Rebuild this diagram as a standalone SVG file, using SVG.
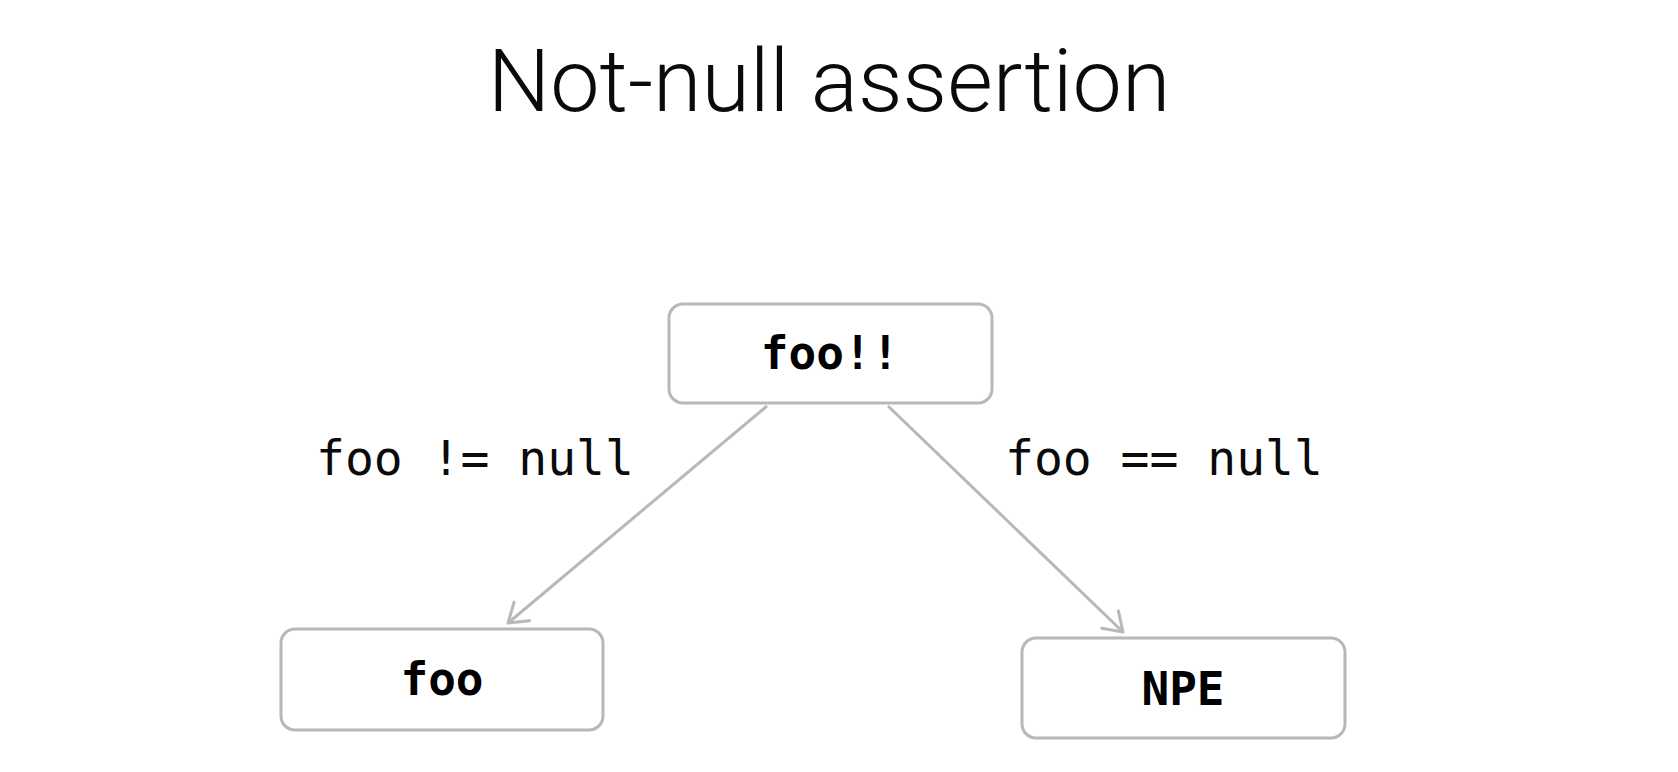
<svg xmlns="http://www.w3.org/2000/svg" width="1678" height="772" viewBox="0 0 1678 772">
  <style>
    .box { fill: #ffffff; stroke: #b8b8b8; stroke-width: 3; }
    .node-text { font-family: "DejaVu Sans Mono", "Liberation Mono", monospace; font-weight: bold; font-size: 46px; fill: #000000; text-anchor: middle; }
    .edge { stroke: #b8b8b8; stroke-width: 3; fill: none; }
    .edge-label { font-family: "DejaVu Sans Mono", "Liberation Mono", monospace; font-size: 48px; fill: #0a0a0a; }
    .title { font-family: Roboto, "Liberation Sans", sans-serif; font-weight: 300; font-size: 88px; fill: #0a0a0a; text-anchor: middle; }
  </style>
  <defs>
    <marker id="arrow" markerUnits="userSpaceOnUse" markerWidth="40" markerHeight="40" viewBox="-30 -20 40 40" refX="0" refY="0" orient="auto">
      <path d="M-18,-12 L0,0 L-18,12" fill="none" stroke="#b8b8b8" stroke-width="3" stroke-linecap="round" stroke-linejoin="round"/>
    </marker>
  </defs>
  <rect width="1678" height="772" fill="#ffffff"/>
  <text class="title" x="829" y="111">Not-null assertion</text>
  <g id="connectors">
    <line class="edge" x1="767" y1="406" x2="508" y2="623" marker-end="url(#arrow)"/>
    <line class="edge" x1="888" y1="406" x2="1123" y2="632" marker-end="url(#arrow)"/>
    <text class="edge-label" x="316" y="475">foo != null</text>
    <text class="edge-label" x="1005" y="475">foo == null</text>
  </g>
  <g id="node-foo-assert">
    <rect class="box" x="669" y="304" width="323" height="99" rx="14"/>
    <text class="node-text" x="830" y="369">foo!!</text>
  </g>
  <g id="node-foo">
    <rect class="box" x="281" y="629" width="322" height="101" rx="14"/>
    <text class="node-text" x="442" y="695">foo</text>
  </g>
  <g id="node-npe">
    <rect class="box" x="1022" y="638" width="323" height="100" rx="14"/>
    <text class="node-text" x="1183" y="705">NPE</text>
  </g>
</svg>
